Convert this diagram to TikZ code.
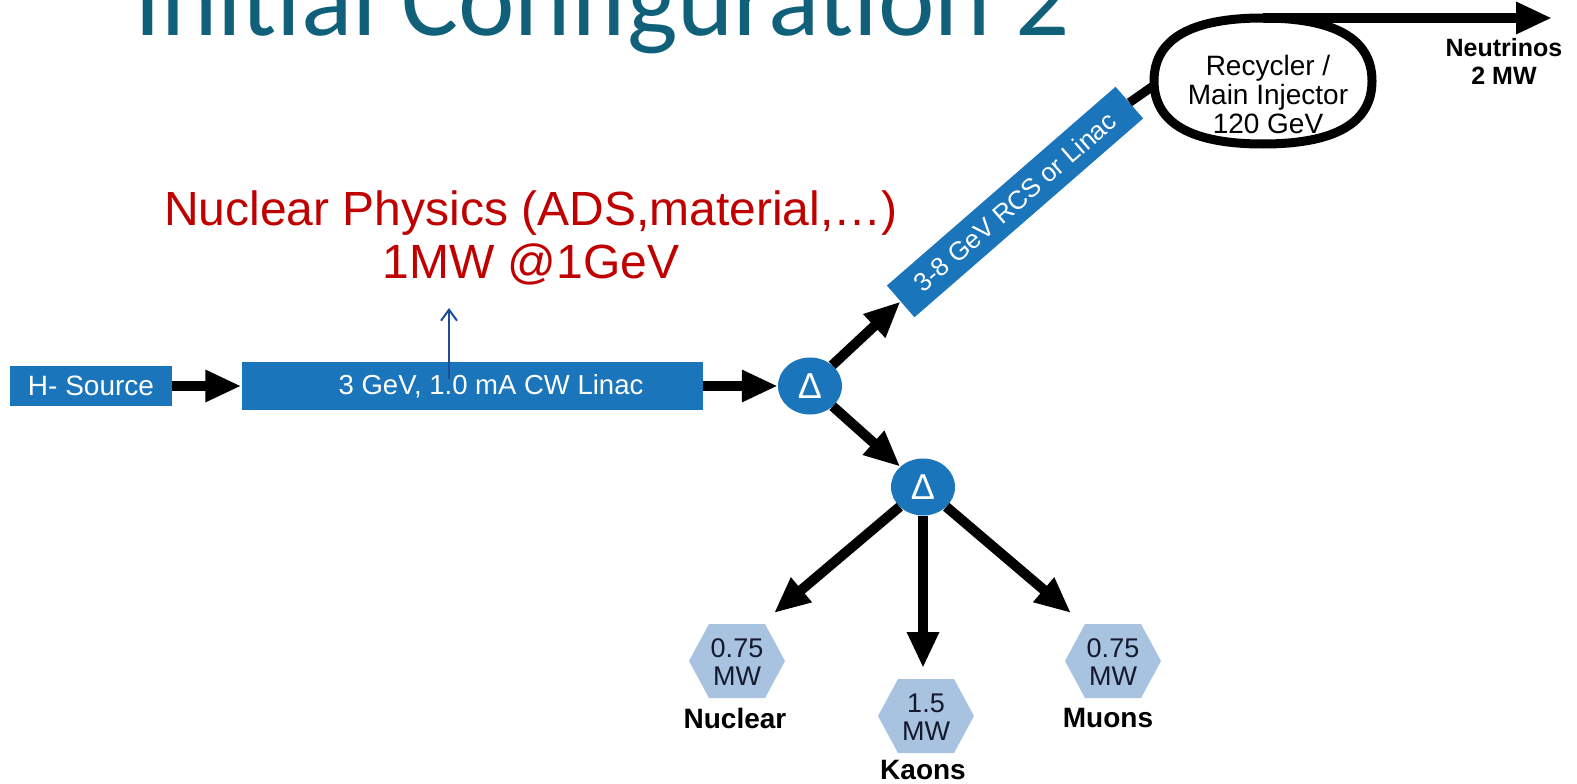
\documentclass[tikz,border=0pt]{standalone}
\usepackage{fontspec}
\setmainfont{Liberation Sans}
\newfontfamily\titlefont{Carlito}
\usetikzlibrary{arrows.meta,shapes.geometric}
\definecolor{boxblue}{RGB}{27,117,187}
\definecolor{hexblue}{RGB}{167,195,224}
\definecolor{npred}{RGB}{192,0,0}
\definecolor{titleteal}{RGB}{16,96,122}
\definecolor{linkblue}{RGB}{31,78,150}
\definecolor{hextext}{RGB}{20,25,45}
\begin{document}
\begin{tikzpicture}[x=1pt,y=-1pt,
  bluebox/.style={fill=boxblue,text=white,inner sep=0pt},
  split/.style={ellipse,fill=boxblue,text=white,minimum width=64pt,minimum height=57pt,inner sep=0pt,font=\fontsize{36}{40}\selectfont},
  beam/.style={line width=10pt,-{Triangle[length=36pt,width=30pt]}},
  hextxt/.style={align=center,text=hextext,font=\fontsize{27}{28}\selectfont,inner sep=0pt},
  lbl/.style={align=center,font=\bfseries\fontsize{28}{28}\selectfont,inner sep=0pt}
]
\path[use as bounding box] (0,0) rectangle (1577,784);
\clip (0,0) rectangle (1577,784);
\fill[white] (0,0) rectangle (1577,784);

% title (cut off at top)
\node[anchor=base,font=\titlefont\fontsize{107}{110}\selectfont,text=titleteal,inner sep=0pt] (title) at (602,36) {Initial Configuration 2};

% main line
\node[bluebox,minimum width=162pt,minimum height=40pt,font=\fontsize{28}{30}\selectfont] (src) at (91,386) {H- Source};
\node[bluebox,minimum width=461pt,minimum height=48pt] (linac) at (472,386) {};
\node[text=white,font=\fontsize{27.5}{30}\selectfont,inner sep=0pt] (linactxt) at (491,386) {3 GeV, 1.0 mA CW Linac};
\node[split] (d1) at (810,386) {Δ};
\node[split] (d2) at (923,487) {Δ};
\node[bluebox,rotate=41,minimum width=303pt,minimum height=42pt,font=\fontsize{26}{28}\selectfont] (rcs) at (1015,202) {3-8 GeV RCS or Linac};

% ring
\coordinate (ringTop) at (1263,18);
\coordinate (ringL) at (1156,84);
\draw[line width=9pt] (1372,81) .. controls (1372,123) and (1335,144) .. (1263,144)
  .. controls (1191,144) and (1154,123) .. (1154,81)
  .. controls (1154,39) and (1191,18) .. (ringTop)
  .. controls (1335,18) and (1372,39) .. (1372,81) -- cycle;
\node[align=center,font=\fontsize{28}{29}\selectfont,inner sep=0pt] (ringtxt) at (1268,94) {Recycler /\\Main Injector\\120 GeV};
\coordinate (nuEnd) at (1552,18);
\draw[line width=9pt] (rcs.east) -- (ringL);
\draw[beam] (ringTop) -- (nuEnd);
\node[align=center,font=\bfseries\fontsize{25}{28}\selectfont,inner sep=0pt] (nu) at (1504,61) {Neutrinos\\2 MW};

% red annotation
\node[align=center,text=npred,font=\fontsize{48}{53}\selectfont,inner sep=0pt] (np) at (531,238) {Nuclear Physics (ADS,material,…)\\1MW @1GeV};
\coordinate (npFoot) at (449,379);
\coordinate (npTip) at (449,308);
\draw[linkblue,line width=2pt,-{Straight Barb[length=11pt,width=16pt]}] (npFoot) -- (npTip);

% beams
\draw[beam] (src) -- (linac);
\draw[beam] (linac) -- (d1);
\draw[beam] (d1) -- (rcs.west);
\draw[beam] (d1) -- (d2);
\coordinate (tN) at (774,613);
\coordinate (tK) at (923,668);
\coordinate (tM) at (1071,613);
\draw[beam] (d2) -- (tN);
\draw[beam] (d2) -- (tK);
\draw[beam] (d2) -- (tM);

% hexagons
\fill[hexblue,shift={(737,661)}] (-48,0) -- (-28,-37) -- (28,-37) -- (48,0) -- (28,37) -- (-28,37) -- cycle;
\fill[hexblue,shift={(926,716)}] (-48,0) -- (-28,-37) -- (28,-37) -- (48,0) -- (28,37) -- (-28,37) -- cycle;
\fill[hexblue,shift={(1113,661)}] (-48,0) -- (-28,-37) -- (28,-37) -- (48,0) -- (28,37) -- (-28,37) -- cycle;
\node[hextxt] (hN) at (737,662) {0.75\\MW};
\node[hextxt] (hK) at (926,717) {1.5\\MW};
\node[hextxt] (hM) at (1113,662) {0.75\\MW};
\node[lbl] (lN) at (735,718) {Nuclear};
\node[lbl] (lK) at (923,770) {Kaons};
\node[lbl] (lM) at (1108,718) {Muons};
\end{tikzpicture}
\end{document}
